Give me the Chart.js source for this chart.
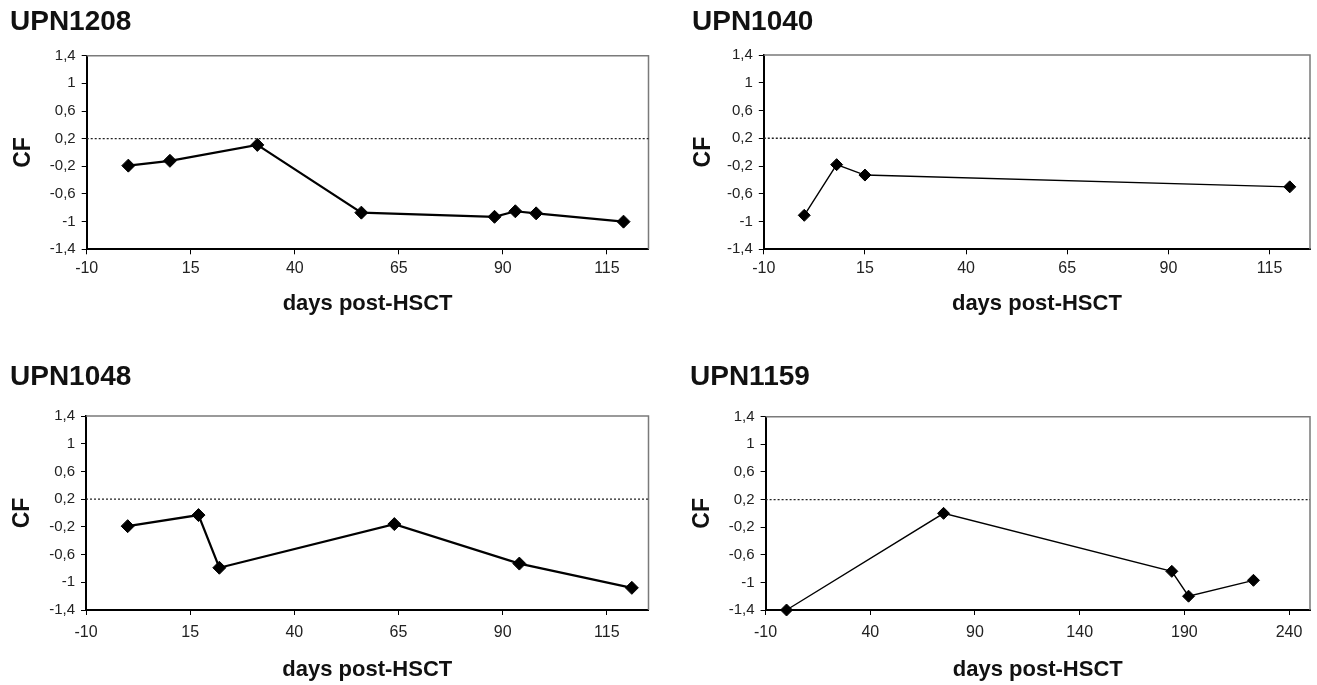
<!DOCTYPE html>
<html>
<head>
<meta charset="utf-8">
<script src="https://cdn.jsdelivr.net/npm/chart.js@4.4.1/dist/chart.umd.min.js"></script>
<style>
    body { margin: 0; background: #fff; width: 1317px; height: 685px; position: relative; overflow: hidden; }
    canvas { position: absolute; }
</style>
</head>
<body>
<canvas id="c1208"></canvas>
<canvas id="c1040"></canvas>
<canvas id="c1048"></canvas>
<canvas id="c1159"></canvas>
<script>
var cutoff = 0.2;
var yTicks = [-1.4, -1, -0.6, -0.2, 0.2, 0.6, 1, 1.4];
var xTicksShort = [-10, 15, 40, 65, 90, 115];
var xTicksLong = [-10, 40, 90, 140, 190, 240];

var days1208 = [0, 10, 31, 56, 88, 93, 98, 119];
var cf1208 = [-0.19, -0.12, 0.11, -0.87, -0.93, -0.85, -0.88, -1.0];

var days1040 = [0, 8, 15, 120];
var cf1040 = [-0.91, -0.18, -0.33, -0.5];

var days1048 = [0, 17, 22, 64, 94, 121];
var cf1048 = [-0.19, -0.03, -0.79, -0.16, -0.73, -1.08];

var days1159 = [0, 75, 184, 192, 223];
var cf1159 = [-1.4, 0.0, -0.84, -1.2, -0.97];

var FONT = "'Liberation Sans', Arial, sans-serif";

// grey frame on the top and right side of the plot area
var frameLines = {
    id: 'frameLines',
    beforeDatasetsDraw: function(chart) {
        var a = chart.chartArea;
        var ctx = chart.ctx;
        ctx.save();
        ctx.strokeStyle = '#7a7a7a';
        ctx.lineWidth = 1.5;
        ctx.beginPath();
        ctx.moveTo(a.left, a.top);
        ctx.lineTo(a.right, a.top);
        ctx.lineTo(a.right, a.bottom);
        ctx.stroke();
        ctx.restore();
    }
};

function makePanel(p) {
    var canvas = document.getElementById(p.id);
    canvas.width = p.w;
    canvas.height = p.h;
    canvas.style.left = p.left + 'px';
    canvas.style.top = p.top + 'px';

    var points = p.days.map(function(d, i) { return {x: d, y: p.cf[i]}; });

    new Chart(canvas.getContext('2d'), {
        type: 'line',
        data: {
            datasets: [{
                data: [{x: p.xMin, y: cutoff}, {x: p.xMax, y: cutoff}],
                borderColor: '#222',
                borderWidth: 1.3,
                borderDash: [2, 2],
                pointRadius: 0,
                clip: false
            }, {
                data: points,
                borderColor: '#000',
                borderWidth: p.lineWidth,
                pointStyle: 'rectRot',
                pointRadius: p.radius,
                pointBackgroundColor: '#000',
                pointBorderColor: '#000',
                pointBorderWidth: 1,
                tension: 0,
                clip: false
            }]
        },
        options: {
            responsive: false,
            animation: false,
            layout: { padding: { left: 0, top: 0, right: p.padRight, bottom: 0 } },
            plugins: {
                legend: { display: false },
                tooltip: { enabled: false },
                title: {
                    display: true,
                    text: p.name,
                    align: 'start',
                    color: '#111',
                    font: { family: FONT, size: 28, weight: 'bold', lineHeight: 1 },
                    padding: { top: p.titleTop, bottom: p.titleBottom }
                }
            },
            scales: {
                x: {
                    type: 'linear',
                    min: p.xMin,
                    max: p.xMax,
                    afterBuildTicks: function(scale) {
                        scale.ticks = p.xTicks.map(function(v) { return {value: v}; });
                    },
                    afterFit: function(scale) { scale.height = p.xHeight; },
                    grid: { drawOnChartArea: false, color: '#000', tickLength: 5 },
                    border: { color: '#000', width: 2 },
                    ticks: {
                        color: '#222',
                        padding: p.xTickPad,
                        font: { family: FONT, size: 16 }
                    },
                    title: {
                        display: true,
                        text: 'days post-HSCT',
                        color: '#111',
                        font: { family: FONT, size: 22, weight: 'bold', lineHeight: 1 },
                        padding: { top: 0, bottom: p.xTitleBottom }
                    }
                },
                y: {
                    min: -1.4,
                    max: 1.4,
                    afterBuildTicks: function(scale) {
                        scale.ticks = yTicks.map(function(v) { return {value: v}; });
                    },
                    afterFit: function(scale) { scale.width = p.yWidth; },
                    grid: { drawOnChartArea: false, color: '#000', tickLength: 5 },
                    border: { color: '#000', width: 2 },
                    ticks: {
                        color: '#222',
                        padding: 6,
                        font: { family: FONT, size: 15 },
                        callback: function(v) { return String(v).replace('.', ','); }
                    },
                    title: {
                        display: true,
                        text: 'CF',
                        color: '#111',
                        font: { family: FONT, size: 23, weight: 'bold', lineHeight: 1 },
                        padding: { top: p.yTitleTop, bottom: 0 }
                    }
                }
            }
        },
        plugins: [frameLines]
    });
}

makePanel({
    id: 'c1208', name: 'UPN1208', days: days1208, cf: cf1208,
    xTicks: xTicksShort, xMin: -10, xMax: 125,
    left: 10, top: 0, w: 646, h: 330, padRight: 2,
    yWidth: 76.7, xHeight: 80.7, titleTop: 8.2, titleBottom: 19.5,
    yTitleTop: 2, xTickPad: 5, xTitleBottom: 15,
    lineWidth: 2.2, radius: 6.5
});

makePanel({
    id: 'c1040', name: 'UPN1040', days: days1040, cf: cf1040,
    xTicks: xTicksShort, xMin: -10, xMax: 125,
    left: 691.5, top: 0, w: 625.5, h: 330, padRight: 2,
    yWidth: 71.8, xHeight: 80.7, titleTop: 8.2, titleBottom: 18.8,
    yTitleTop: 0, xTickPad: 5, xTitleBottom: 15,
    lineWidth: 1.4, radius: 6
});

makePanel({
    id: 'c1048', name: 'UPN1048', days: days1048, cf: cf1048,
    xTicks: xTicksShort, xMin: -10, xMax: 125,
    left: 10, top: 355, w: 646, h: 330, padRight: 2,
    yWidth: 76, xHeight: 75, titleTop: 8.2, titleBottom: 24.8,
    yTitleTop: 1, xTickPad: 8, xTitleBottom: 4,
    lineWidth: 2.2, radius: 6.5
});

makePanel({
    id: 'c1159', name: 'UPN1159', days: days1159, cf: cf1159,
    xTicks: xTicksLong, xMin: -10, xMax: 250,
    left: 689.7, top: 355, w: 627.3, h: 330, padRight: 2,
    yWidth: 75.6, xHeight: 75, titleTop: 8.2, titleBottom: 25.5,
    yTitleTop: 1, xTickPad: 8, xTitleBottom: 4,
    lineWidth: 1.4, radius: 6
});
</script>
</body>
</html>
